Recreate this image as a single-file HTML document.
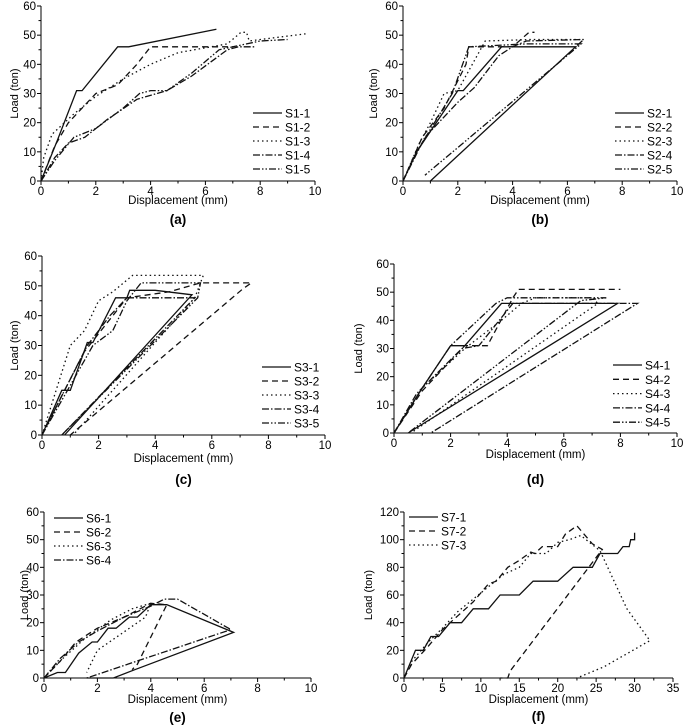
<!DOCTYPE html>
<html><head><meta charset="utf-8">
<style>
body{margin:0;background:#fff;}
svg{display:block;font-family:"Liberation Sans",Arial,sans-serif;}
</style></head>
<body>
<svg id="chart" width="685" height="728" viewBox="0 0 685 728"></svg>
<script>
// ---- data (x = displacement mm, y = load ton) ----
const aNames=["S1-1","S1-2","S1-3","S1-4","S1-5"];
const a1=[[0,0],[0.6,14],[1.3,31],[1.5,31],[2.8,46],[3.2,46],[6.4,52]];
const a2=[[0,0],[0.5,12],[1,20],[1.5,25],[2,30],[2.8,33],[3.5,40],[4,46],[5,46],[6.5,46],[7,46]];
const a3=[[0,0],[0.1,8],[0.4,16],[1.2,23],[2,29],[3,35],[4,40],[5,44],[6.8,47],[7.3,51],[7.5,51],[7.6,48],[8,48.5],[9.7,50.5]];
const a4=[[0,0],[0.5,8],[1,13],[1.6,15],[2.4,21],[3.5,28],[4.6,31],[5.5,36],[6.8,45],[7.2,46],[7.8,46]];
const a5=[[0,0],[0.5,7],[1.2,15],[2,18],[3,25],[3.6,30],[4,31],[4.6,31],[5.5,37],[6.5,45],[7,46],[8,48],[9,48.5]];
const bNames=["S2-1","S2-2","S2-3","S2-4","S2-5"];
const b1=[[0,0],[0.5,10],[1,17],[2,31],[2.2,31],[3.6,46],[6.3,46],[1,0]];
const b2=[[0,0],[0.7,15],[1.5,25],[2.3,40],[2.4,46],[4,46],[4.6,51],[4.8,51]];
const b3=[[0,0],[0.6,13],[1,20],[1.5,30],[2,31],[3,48],[4.7,48.5],[6.5,48.5]];
const b4=[[0,0],[0.8,15],[2,27],[2.6,32],[3.5,43],[4,46],[4.5,48],[6.6,48.5],[6.3,46]];
const b5=[[0,0],[0.5,10],[1.8,30],[2.4,46],[4.5,47],[6.5,47],[0.8,2]];
const cNames=["S3-1","S3-2","S3-3","S3-4","S3-5"];
const c1=[[0,0],[0.7,15],[1,15],[1.6,31],[1.8,31],[2.6,46],[3,46],[3.1,48.5],[4,48.5],[5.3,47],[0.8,0]];
const c2=[[0,0],[0.8,15],[1.5,28],[2.5,40],[3,46],[4.5,48],[5.6,51],[7.4,51],[7.1,49],[1,0]];
const c3=[[0,0],[0.5,15],[1,30],[1.5,35],[2,45],[2.5,48],[3.2,53.5],[5.7,53.5],[5.4,46],[1.1,0]];
const c4=[[0,0],[0.8,15],[1.6,30],[2.4,40],[3,46],[5.4,46],[0.7,0]];
const c5=[[0,0],[0.9,15],[1.8,30],[2.5,35],[3,45],[3.5,51],[5.6,51],[5.5,46],[0.7,0]];
const dNames=["S4-1","S4-2","S4-3","S4-4","S4-5"];
const d1=[[0,0],[1,16],[2,31],[2.5,31],[3.8,46],[7.9,46],[0.5,0]];
const d2=[[0,0],[1,15],[2.5,31],[3.3,31],[4.2,48],[4.4,51],[8,51]];
const d3=[[0,0],[1,16],[2.5,30],[3.8,40],[4.5,46],[5,48],[7,48],[7.2,46],[0.6,0]];
const d4=[[0,0],[0.8,14],[2.4,30],[3,31],[4.2,46],[8.6,46],[1.3,0]];
const d5=[[0,0],[1,16],[2,31],[3.6,46],[4,48],[7.5,48],[6.6,47],[0.5,0]];
const eNames=["S6-1","S6-2","S6-3","S6-4"];
const e1=[[0,0],[0.5,2],[0.8,2],[1.3,9],[1.8,13],[2,13],[2.4,18],[2.7,18],[3.2,22],[3.5,22],[4,26.5],[4.6,26.5],[7.1,16.5],[3.4,3],[2.6,0],[1.6,0]];
const e2=[[0,0],[0.6,6],[1.2,13],[2,18],[3,22],[4,27],[4.6,26.5],[3.5,5],[3.3,3]];
const e3=[[0,0],[0.7,7],[1.5,14],[2.5,21],[3.3,25],[4,27],[3.8,22],[2,10],[1.6,2]];
const e4=[[0,0],[0.6,7],[1.3,13],[2,17],[3,22],[4,26],[4.5,28.5],[5,28.5],[7,17.5],[1.6,0]];
const fNames=["S7-1","S7-2","S7-3"];
const f1=[[0,0],[1.5,20],[2.5,20],[3.5,30],[4.5,30],[6,40],[7.5,40],[9,50],[11,50],[12.5,60],[15,60],[16.8,70],[20,70],[22,80],[24.5,80],[25.5,90],[27.8,90],[28.5,95],[29.3,95],[29.5,100],[30,100],[30,105]];
const f2=[[0,0],[1,10],[3,22],[5,35],[7,45],[9,55],[11,68],[12,70],[13.5,80],[15,85],[16.5,91],[17,90],[18,95],[20,95],[21,104],[22.5,110],[24.5,97],[25.8,93],[13.8,5],[13.5,0],[12.5,0]];
const f3=[[0,0],[1,12],[3,25],[5,36],[7,48],[9,57],[11,66],[13,75],[15,80],[16.5,90],[18.5,90],[20,98],[21.5,100],[23,103],[25.5,92],[29,50],[32,27],[26,8],[22.5,0]];
const ticks10=[0,2,4,6,8,10];
const ticks35=[0,5,10,15,20,25,30,35];
const yTicks60=[0,10,20,30,40,50,60];
const yTicks120=[0,20,40,60,80,100,120];
const dashes=["","6,4","1.5,3","7,2,1.5,2","7,2,1.5,2,1.5,2"];

const NS="http://www.w3.org/2000/svg";
const svg=document.getElementById("chart");
function mk(tag,attrs,parent){const e=document.createElementNS(NS,tag);for(const k in attrs)e.setAttribute(k,attrs[k]);(parent||svg).appendChild(e);return e;}

const panels=[
 {id:"a",x0:41,x1:315,y0:181,y1:6,xmax:10,ymax:60,xt:ticks10,yt:yTicks60,series:[a1,a2,a3,a4,a5],names:aNames,leg:{x:253,y:113,dy:14},ytx:14,xty:204,ly:224},
 {id:"b",x0:403,x1:677,y0:181,y1:6,xmax:10,ymax:60,xt:ticks10,yt:yTicks60,series:[b1,b2,b3,b4,b5],names:bNames,leg:{x:615,y:113,dy:14},ytx:373,xty:204,ly:224},
 {id:"c",x0:42,x1:325,y0:435,y1:256,xmax:10,ymax:60,xt:ticks10,yt:yTicks60,series:[c1,c2,c3,c4,c5],names:cNames,leg:{x:262,y:367,dy:14},ytx:14,xty:462,ly:484},
 {id:"d",x0:394,x1:677,y0:433,y1:264,xmax:10,ymax:60,xt:ticks10,yt:yTicks60,series:[d1,d2,d3,d4,d5],names:dNames,leg:{x:613,y:365,dy:14.3},ytx:358,xty:458,ly:484},
 {id:"e",x0:44,x1:311,y0:678,y1:512,xmax:10,ymax:60,xt:ticks10,yt:yTicks60,series:[e1,e2,e3,e4],names:eNames,leg:{x:54,y:518,dy:14},ytx:24,xty:703,ly:722},
 {id:"f",x0:404,x1:673,y0:678,y1:512,xmax:35,ymax:120,xt:ticks35,yt:yTicks120,series:[f1,f2,f3],names:fNames,leg:{x:409,y:517,dy:14},ytx:368,xty:703,ly:721}
];

panels.forEach(p=>{
 const g=mk("g",{});
 
 
 const sx=v=>p.x0+(p.x1-p.x0)*v/p.xmax;
 const sy=v=>p.y0+(p.y1-p.y0)*v/p.ymax;
 const ax=mk("path",{d:`M${p.x0},${p.y1}V${p.y0}H${p.x1}`,fill:"none",stroke:"#000","stroke-width":1},g);
 
 
 const xstep=p.xt[1]-p.xt[0], ystep=p.yt[1]-p.yt[0];
 p.xt.forEach((t,i)=>{
  mk("line",{x1:sx(t),x2:sx(t),y1:p.y0,y2:p.y0+4,stroke:"#000"},g);
  if(i<p.xt.length-1)mk("line",{x1:sx(t+xstep/2),x2:sx(t+xstep/2),y1:p.y0,y2:p.y0+2.5,stroke:"#000"},g);
  const tl=mk("text",{x:sx(t),y:p.y0+14,"font-size":11.5,"text-anchor":"middle"},g);
  tl.textContent=t;
  
  
 });
 p.yt.forEach((t,i)=>{
  mk("line",{x1:p.x0-4,x2:p.x0,y1:sy(t),y2:sy(t),stroke:"#000"},g);
  if(i<p.yt.length-1)mk("line",{x1:p.x0-2.5,x2:p.x0,y1:sy(t+ystep/2),y2:sy(t+ystep/2),stroke:"#000"},g);
  const tl=mk("text",{x:p.x0-5,y:sy(t)+4,"font-size":11.5,"text-anchor":"end"},g);
  tl.textContent=t;
  
  
 });
 const xt=mk("text",{x:(p.x0+p.x1)/2,y:p.xty,"font-size":11.5,"text-anchor":"middle"},g);
 xt.textContent="Displacement (mm)";
 
 
 const ycy=(p.y0+p.y1)/2;
 const yt=mk("text",{x:p.ytx,y:ycy,"font-size":11,"text-anchor":"middle",transform:`rotate(-90 ${p.ytx} ${ycy})`,dy:4},g);
 yt.textContent="Load (ton)";
 
 
 const pl=mk("text",{x:(p.x0+p.x1)/2,y:p.ly,"font-size":13.5,"font-weight":"bold","text-anchor":"middle"},g);
 pl.textContent="("+p.id+")";
 
 
 p.series.forEach((s,i)=>{
  const d=s.map((pt,j)=>(j?"L":"M")+sx(pt[0]).toFixed(1)+","+sy(pt[1]).toFixed(1)).join("");
  const path=mk("path",{d:d,fill:"none",stroke:"#111","stroke-width":1.3,"stroke-dasharray":dashes[i]},g);
  
  
  const ly=p.leg.y+i*p.leg.dy;
  const ll=mk("line",{x1:p.leg.x,x2:p.leg.x+29,y1:ly,y2:ly,stroke:"#111","stroke-width":1.3,"stroke-dasharray":dashes[i]},g);
  
  
  const lt=mk("text",{x:p.leg.x+32,y:ly+4.5,"font-size":12},g);
  lt.textContent=p.names[i];
  
  
 });
});
</script>
</body></html>
